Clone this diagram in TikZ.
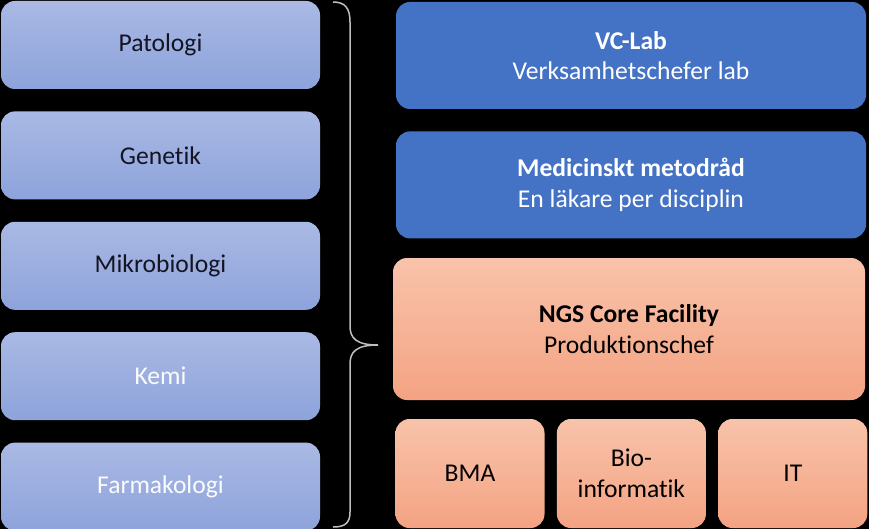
\documentclass[tikz,border=0pt]{standalone}
\usepackage{fontspec}
\setmainfont{Carlito}[Ligatures=NoCommon]
\usepackage{tikz}
\usetikzlibrary{positioning}
\definecolor{lavtop}{HTML}{AAB9E4}
\definecolor{lavbot}{HTML}{8DA3DB}
\definecolor{vcblue}{HTML}{4472C4}
\definecolor{peachtop}{HTML}{F8C3AA}
\definecolor{peachbot}{HTML}{F4A383}
\definecolor{darkink}{HTML}{141422}
\definecolor{bracegray}{HTML}{BFBFBF}
\tikzset{
    discbox/.style={rounded corners=14pt, top color=lavtop, bottom color=lavbot,
        minimum width=319pt, minimum height=88pt, inner sep=0pt,
        font=\fontsize{25.6}{30.5}\selectfont},
    leadbox/.style={rounded corners=14pt, fill=vcblue, text=white, align=center,
        minimum width=470pt, minimum height=107pt, inner sep=0pt,
        font=\fontsize{25.6}{30.5}\selectfont},
    corebox/.style={rounded corners=14pt, top color=peachtop, bottom color=peachbot,
        text=black, align=center, inner sep=0pt,
        font=\fontsize{25.6}{30.5}\selectfont}
}

\begin{document}
\begin{tikzpicture}[x=1pt,y=-1pt]
                        \fill[black] (0,0) rectangle (869,529);
                        \useasboundingbox (0,0) rectangle (869,529);
                        \node[discbox, text=darkink] (pat) at (160.5,45) {Patologi};
                        \node[discbox, text=darkink, below=22pt of pat] (gen) {Genetik};
                        \node[discbox, text=darkink, below=22pt of gen] (mik) {Mikrobiologi};
                        \node[discbox, text=white!94!lavtop, below=22pt of mik] (kem) {Kemi};
                        \node[discbox, text=white!94!lavtop, below=22pt of kem] (far) {Farmakologi};
                        \node[leadbox] (vc) at (631,55.5) {\textbf{VC-Lab}\\Verksamhetschefer lab};
                        \node[leadbox, below=22pt of vc] (med) {\textbf{Medicinskt metodråd}\\En läkare per disciplin};
                        \node[corebox, minimum width=472pt, minimum height=142pt] (ngs) at (629,329)
                            {\textbf{NGS Core Facility}\\Produktionschef};
                        \node[corebox, minimum width=149pt, minimum height=109pt] (bma) at (470,473.5) {BMA};
                        \node[corebox, minimum width=149pt, minimum height=109pt, right=12pt of bma] (bio) {Bio-\\informatik};
                        \node[corebox, minimum width=149pt, minimum height=109pt, right=12pt of bio] (it) {IT};
                        \draw[bracegray, line width=1.5pt] (333,2) .. controls (345,2) and (350,8) .. (350,22)
                            -- (350,326) .. controls (350,338) and (356,345) .. (378,345)
                            .. controls (356,345) and (350,352) .. (350,364)
                            -- (350,512) .. controls (350,523) and (345,527) .. (333,527);
                    \end{tikzpicture}
\end{document}
